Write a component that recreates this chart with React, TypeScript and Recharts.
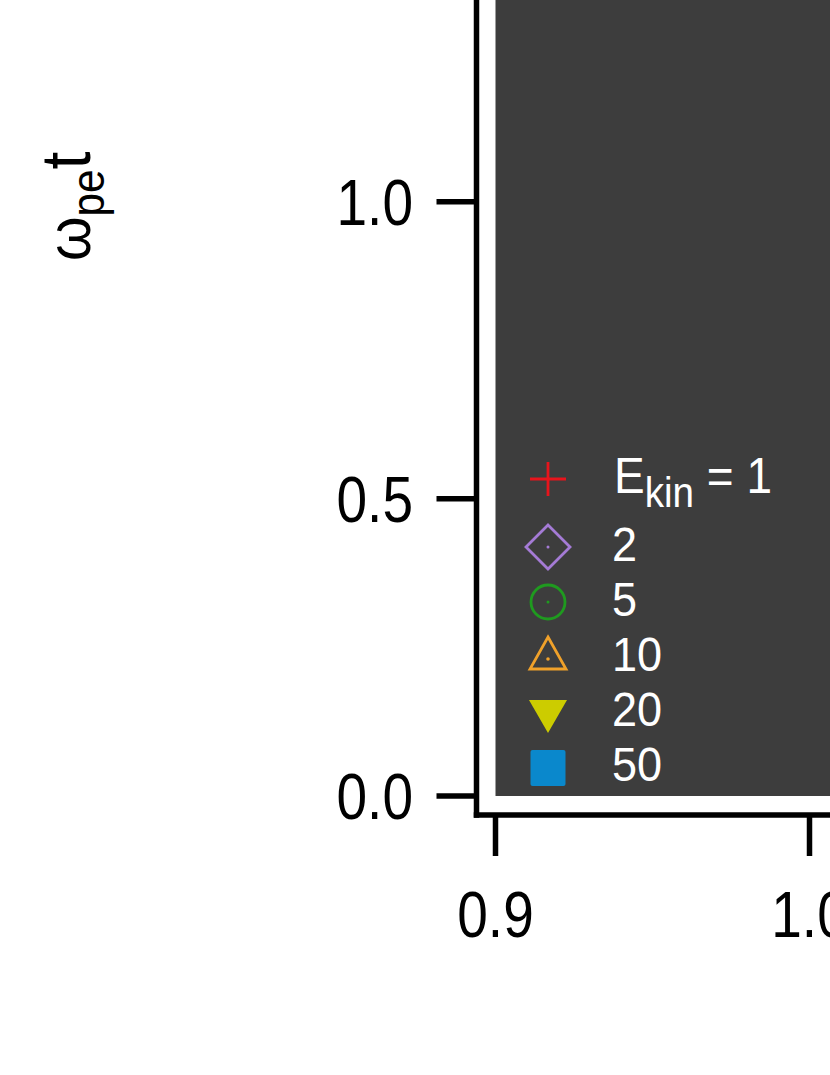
import React from 'react';
import { ScatterChart, Scatter, XAxis, YAxis, ReferenceArea } from 'recharts';

// series of the legend (E_kin values) — no points are visible in this crop of the plot
const seriesLabels = ['1', '2', '5', '10', '20', '50'];
const seriesColors = ['#e8141c', '#a57bd6', '#1f9a1f', '#f0a12a', '#cccc00', '#0a88cc'];
const seriesShapes = ['plus', 'diamond', 'circle', 'triangleUp', 'triangleDown', 'square'];
const ekin1: { x: number; y: number }[] = [];
const ekin2: { x: number; y: number }[] = [];
const ekin5: { x: number; y: number }[] = [];
const ekin10: { x: number; y: number }[] = [];
const ekin20: { x: number; y: number }[] = [];
const ekin50: { x: number; y: number }[] = [];
const seriesPoints = [ekin1, ekin2, ekin5, ekin10, ekin20, ekin50];

const xTicks = [0.9, 1.0, 1.1];
const yTicks = [0.0, 0.5, 1.0];

const FONT = '"Liberation Sans", Arial, sans-serif';
const PANEL = '#3d3d3d';

function Marker({ shape, color, cx, cy }: { shape: string; color: string; cx: number; cy: number }) {
  const sw = 2.8;
  const dot = <circle cx={cx} cy={cy} r={1.5} fill={color} />;
  switch (shape) {
    case 'plus':
      return (
        <g stroke={color} strokeWidth={sw}>
          <line x1={cx - 18} y1={cy} x2={cx + 18} y2={cy} />
          <line x1={cx} y1={cy - 17} x2={cx} y2={cy + 17} />
        </g>
      );
    case 'diamond':
      return (
        <g>
          <polygon
            points={`${cx},${cy - 22} ${cx + 22},${cy} ${cx},${cy + 22} ${cx - 22},${cy}`}
            fill="none"
            stroke={color}
            strokeWidth={sw}
          />
          {dot}
        </g>
      );
    case 'circle':
      return (
        <g>
          <circle cx={cx} cy={cy} r={17} fill="none" stroke={color} strokeWidth={sw} />
          {dot}
        </g>
      );
    case 'triangleUp':
      return (
        <g>
          <polygon
            points={`${cx},${cy - 18} ${cx + 18},${cy + 14} ${cx - 18},${cy + 14}`}
            fill="none"
            stroke={color}
            strokeWidth={sw}
          />
          <circle cx={cx} cy={cy + 4} r={1.8} fill={color} />
        </g>
      );
    case 'triangleDown':
      return <polygon points={`${cx - 19},${cy - 16} ${cx + 19},${cy - 16} ${cx},${cy + 17}`} fill={color} />;
    default:
      return <rect x={cx - 17.5} y={cy - 18} width={35} height={36} rx={2} fill={color} />;
  }
}

const XTick = (props: any) => {
  const { x, y, payload } = props;
  return (
    <text
      transform={`translate(${x},${y + 81}) scale(0.86,1)`}
      textAnchor="middle"
      fontFamily={FONT}
      fontSize={64}
      fill="#000"
    >
      {payload.value.toFixed(1)}
    </text>
  );
};

const YTick = (props: any) => {
  const { x, y, payload } = props;
  return (
    <text
      transform={`translate(${x - 23.5},${y + 23}) scale(0.86,1)`}
      textAnchor="end"
      fontFamily={FONT}
      fontSize={64}
      fill="#000"
    >
      {payload.value.toFixed(1)}
    </text>
  );
};

const YLabel = () => (
  <text transform="translate(90,396) rotate(-90) scale(0.92,1)" fontFamily={FONT} fontSize={62} fill="#000">
    ω
    <tspan fontSize={46} dy={14}>pe</tspan>
    <tspan fontSize={70} dy={-14}>t</tspan>
  </text>
);

const legendCx = 548;
const legendMarkerY = [479, 547, 602, 655, 716, 768];
const legendBaseY = [493, 561, 616, 671, 726, 781];

export default function App() {
  return (
    <div style={{ position: 'absolute', left: 0, top: 0, width: 830, height: 1075, overflow: 'hidden', background: '#fff' }}>
      <div style={{ position: 'absolute', left: 0, top: -135 }}>
        <ScatterChart width={1144} height={1211} margin={{ top: 39.55, right: 20.5, left: 376.5, bottom: 61 }}>
          <XAxis
            type="number"
            dataKey="x"
            domain={[0.893949, 1.1]}
            allowDataOverflow
            ticks={xTicks}
            height={200}
            tickSize={41}
            tickMargin={0}
            axisLine={{ stroke: '#000', strokeWidth: 5.5, strokeLinecap: 'square' }}
            tickLine={{ stroke: '#000', strokeWidth: 5.5 }}
            tick={<XTick />}
            interval={0}
          />
          <YAxis
            type="number"
            dataKey="y"
            domain={[-0.03197, 1.5]}
            allowDataOverflow
            ticks={yTicks}
            width={100}
            tickSize={40}
            tickMargin={0}
            axisLine={{ stroke: '#000', strokeWidth: 5.5, strokeLinecap: 'square' }}
            tickLine={{ stroke: '#000', strokeWidth: 5.5 }}
            tick={<YTick />}
            interval={0}
            label={<YLabel />}
          />
          <ReferenceArea x1={0.9} x2={1.1} y1={0} y2={1.5} fill={PANEL} fillOpacity={1} stroke="none" ifOverflow="visible" />
          {seriesLabels.map((label, i) => (
            <Scatter
              key={label}
              name={label}
              data={seriesPoints[i]}
              fill={seriesColors[i]}
              isAnimationActive={false}
              shape={(p: any) => <Marker shape={seriesShapes[i]} color={seriesColors[i]} cx={p.cx} cy={p.cy} />}
            />
          ))}
        </ScatterChart>
      </div>
      <svg width={830} height={1075} style={{ position: 'absolute', left: 0, top: 0, pointerEvents: 'none' }}>
        {seriesLabels.map((label, i) => (
          <g key={label}>
            <Marker shape={seriesShapes[i]} color={seriesColors[i]} cx={legendCx} cy={legendMarkerY[i]} />
            {i === 0 ? (
              <text transform={`translate(614,${legendBaseY[i]}) scale(0.92,1)`} fontFamily={FONT} fontSize={50} fill="#fff">
                E
                <tspan fontSize={42} dy={14}>kin</tspan>
                <tspan fontSize={50} dy={-14}>{` = ${label}`}</tspan>
              </text>
            ) : (
              <text transform={`translate(612,${legendBaseY[i]}) scale(0.92,1)`} fontFamily={FONT} fontSize={49} fill="#fff">
                {label}
              </text>
            )}
          </g>
        ))}
      </svg>
    </div>
  );
}
